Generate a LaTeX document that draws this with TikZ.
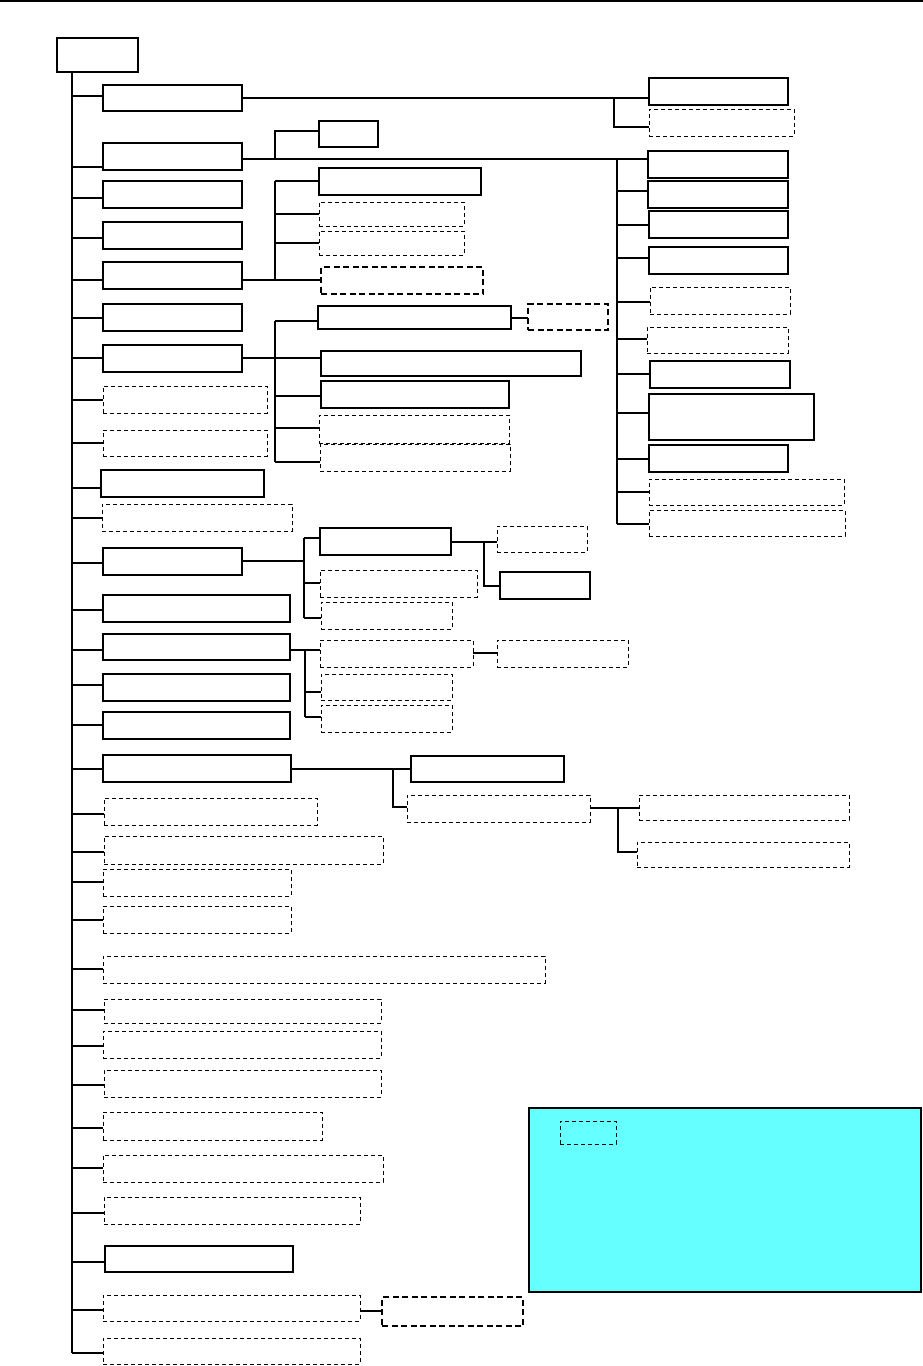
\documentclass[tikz,border=0pt]{standalone}
\usetikzlibrary{fit}
\definecolor{legendcyan}{HTML}{66FFFF}
\tikzset{
  solidbox/.style={draw=black,line width=1.1pt,inner sep=0pt,outer sep=0pt,fill=white},
  dashbox/.style={draw=black,line width=0.9pt,dash pattern=on 4pt off 3pt,inner sep=0pt,outer sep=0pt,fill=white},
  thickdash/.style={draw=black,line width=1.9pt,dash pattern=on 6pt off 3.5pt,inner sep=0pt,outer sep=0pt,fill=white},
  legendbox/.style={draw=black,line width=2.2pt,fill=legendcyan,inner sep=0pt,outer sep=0pt},
  conn/.style={draw=black,line width=1.2pt},
}
\newcommand\bx[6]{\node[#6,fit={(#2,#3) (#4,#5)}] (#1) {};}
\newcommand\stb[3]{\coordinate (stp) at (#1,#2); \draw[conn] (stp) -- (stp -| #3.west);}
\begin{document}
\begin{tikzpicture}[x=1pt,y=-1pt]
\useasboundingbox (0,0) rectangle (923,1366);
\draw[line width=1.5pt] (0,1) -- (923,1);

% root and trunk
\bx{root}{57}{38}{138}{72}{solidbox}
\coordinate (Ttop) at (72,72);
\coordinate (Tbot) at (72,1353);
\draw[conn,line width=1.3pt] (Ttop) -- (Tbot);

% left column
\bx{b1}{103}{85}{242}{111}{solidbox}
\bx{b2}{103}{143}{242}{170}{solidbox}
\bx{b3}{103}{181}{242}{208}{solidbox}
\bx{b4}{103}{222}{242}{249}{solidbox}
\bx{b5}{103}{262}{242}{289}{solidbox}
\bx{b6}{103}{304}{242}{331}{solidbox}
\bx{b7}{103}{345}{242}{372}{solidbox}
\bx{b8}{103}{386}{267}{413}{dashbox}
\bx{b9}{103}{430}{267}{456}{dashbox}
\bx{b10}{101}{470}{264}{497}{solidbox}
\bx{b11}{102}{504}{292}{531}{dashbox}
\bx{b12}{103}{548}{242}{575}{solidbox}
\bx{b13}{103}{595}{290}{622}{solidbox}
\bx{b14}{103}{634}{290}{660}{solidbox}
\bx{b15}{103}{674}{290}{701}{solidbox}
\bx{b16}{103}{712}{290}{739}{solidbox}
\bx{b17}{103}{755}{291}{782}{solidbox}
\bx{b18}{104}{798}{317}{825}{dashbox}
\bx{b19}{104}{836}{383}{864}{dashbox}
\bx{b20}{103}{869}{291}{896}{dashbox}
\bx{b21}{103}{906}{291}{933}{dashbox}
\bx{b22}{103}{956}{545}{983}{dashbox}
\bx{b23}{104}{999}{381}{1023}{dashbox}
\bx{b24}{103}{1031}{381}{1058}{dashbox}
\bx{b25}{104}{1070}{381}{1097}{dashbox}
\bx{b26}{103}{1112}{322}{1140}{dashbox}
\bx{b27}{103}{1155}{383}{1182}{dashbox}
\bx{b28}{104}{1197}{360}{1224}{dashbox}
\bx{b29}{105}{1246}{293}{1272}{solidbox}
\bx{b30}{103}{1295}{360}{1321}{dashbox}
\bx{b31}{103}{1338}{360}{1364}{dashbox}

\stb{72}{96}{b1}
\stb{72}{167}{b2}
\stb{72}{198}{b3}
\stb{72}{238}{b4}
\stb{72}{280}{b5}
\stb{72}{318}{b6}
\stb{72}{358}{b7}
\stb{72}{400}{b8}
\stb{72}{443}{b9}
\stb{72}{488}{b10}
\stb{72}{518}{b11}
\stb{72}{563}{b12}
\stb{72}{610}{b13}
\stb{72}{650}{b14}
\stb{72}{685}{b15}
\stb{72}{725}{b16}
\stb{72}{769}{b17}
\stb{72}{814}{b18}
\stb{72}{852}{b19}
\stb{72}{882}{b20}
\stb{72}{920}{b21}
\stb{72}{969}{b22}
\stb{72}{1010}{b23}
\stb{72}{1046}{b24}
\stb{72}{1085}{b25}
\stb{72}{1128}{b26}
\stb{72}{1168}{b27}
\stb{72}{1213}{b28}
\stb{72}{1262}{b29}
\stb{72}{1310}{b30}
\stb{72}{1353}{b31}

% branch of b1
\bx{r1}{649}{78}{788}{105}{solidbox}
\bx{r2}{649}{109}{794}{136}{dashbox}
\coordinate (j1) at (614,98);
\coordinate (j1b) at (614,127);
\draw[conn] (b1.east |- j1) -- (j1) -- (j1 -| r1.west);
\draw[conn] (j1) -- (j1b) -- (j1b -| r2.west);

% branch of b2 (right bus)
\bx{s1}{319}{121}{378}{147}{solidbox}
\bx{r3}{648}{151}{788}{178}{solidbox}
\bx{r4}{648}{181}{788}{208}{solidbox}
\bx{r5}{649}{211}{788}{238}{solidbox}
\bx{r6}{649}{247}{788}{274}{solidbox}
\bx{r7}{650}{287}{790}{314}{dashbox}
\bx{r8}{647}{327}{788}{353}{dashbox}
\bx{r9}{650}{361}{790}{388}{solidbox}
\bx{r10}{649}{394}{814}{440}{solidbox}
\bx{r11}{649}{445}{788}{472}{solidbox}
\bx{r12}{649}{479}{844}{505}{dashbox}
\bx{r13}{649}{510}{845}{536}{dashbox}
\coordinate (j2a) at (275,159);
\coordinate (j2s) at (275,131);
\coordinate (j2bus) at (617,159);
\coordinate (j2end) at (617,524);
\draw[conn] (b2.east |- j2a) -- (j2bus) -- (j2bus -| r3.west);
\draw[conn] (j2a) -- (j2s) -- (j2s -| s1.west);
\draw[conn] (j2bus) -- (j2end);
\stb{617}{191}{r4}
\stb{617}{225}{r5}
\stb{617}{258}{r6}
\stb{617}{302}{r7}
\stb{617}{339}{r8}
\stb{617}{374}{r9}
\stb{617}{413}{r10}
\stb{617}{459}{r11}
\stb{617}{492}{r12}
\stb{617}{524}{r13}

% branch of b5
\bx{m1}{319}{168}{481}{195}{solidbox}
\bx{m2}{319}{202}{464}{226}{dashbox}
\bx{m3}{319}{231}{464}{255}{dashbox}
\bx{m4}{321}{267}{483}{294}{thickdash}
\coordinate (k5) at (275,280);
\coordinate (k5top) at (275,181);
\draw[conn] (b5.east |- k5) -- (k5 -| m4.west);
\draw[conn] (k5top) -- (k5);
\stb{275}{181}{m1}
\stb{275}{214}{m2}
\stb{275}{243}{m3}

% branch of b7
\bx{n1}{318}{306}{511}{329}{solidbox}
\bx{n1a}{528}{304}{608}{330}{thickdash}
\bx{n2}{321}{351}{581}{376}{solidbox}
\bx{n3}{321}{381}{509}{408}{solidbox}
\bx{n4}{319}{415}{509}{443}{dashbox}
\bx{n5}{320}{444}{510}{471}{dashbox}
\coordinate (k7) at (275,358);
\coordinate (k7top) at (275,321);
\coordinate (k7bot) at (275,462);
\draw[conn] (b7.east |- k7) -- (k7 -| n2.west);
\draw[conn] (k7top) -- (k7bot);
\stb{275}{321}{n1}
\stb{275}{396}{n3}
\stb{275}{428}{n4}
\stb{275}{462}{n5}
\coordinate (k7a) at (511,318);
\draw[conn] (k7a) -- (k7a -| n1a.west);

% branch of b12
\bx{p1}{320}{528}{451}{555}{solidbox}
\bx{p1a}{497}{526}{587}{552}{dashbox}
\bx{p1b}{500}{572}{590}{599}{solidbox}
\bx{p2}{320}{570}{477}{597}{dashbox}
\bx{p3}{321}{602}{452}{629}{dashbox}
\coordinate (k12) at (304,561);
\coordinate (k12top) at (304,538);
\coordinate (k12bot) at (304,618);
\draw[conn] (b12.east |- k12) -- (k12);
\draw[conn] (k12top) -- (k12bot);
\stb{304}{538}{p1}
\stb{304}{583}{p2}
\stb{304}{618}{p3}
\coordinate (k12a) at (484,542);
\coordinate (k12b) at (484,586);
\draw[conn] (p1.east |- k12a) -- (k12a -| p1a.west);
\draw[conn] (k12a) -- (k12b) -- (k12b -| p1b.west);

% branch of b14
\bx{q1}{320}{640}{473}{667}{dashbox}
\bx{q1a}{497}{640}{628}{667}{dashbox}
\bx{q2}{321}{674}{452}{700}{dashbox}
\bx{q3}{321}{705}{452}{732}{dashbox}
\coordinate (k14) at (305,650);
\coordinate (k14bot) at (305,717);
\draw[conn] (b14.east |- k14) -- (k14 -| q1.west);
\draw[conn] (k14) -- (k14bot);
\stb{305}{692}{q2}
\stb{305}{717}{q3}
\coordinate (k14a) at (473,653);
\draw[conn] (k14a) -- (k14a -| q1a.west);

% branch of b17
\bx{a17}{411}{756}{564}{782}{solidbox}
\bx{bb17}{407}{795}{590}{822}{dashbox}
\bx{c1}{639}{795}{849}{820}{dashbox}
\bx{c2}{637}{842}{849}{867}{dashbox}
\coordinate (k17) at (393,769);
\coordinate (k17bot) at (393,807);
\draw[conn] (b17.east |- k17) -- (k17 -| a17.west);
\draw[conn] (k17) -- (k17bot) -- (k17bot -| bb17.west);
\coordinate (k17b) at (618,808);
\coordinate (k17c) at (618,852);
\draw[conn] (bb17.east |- k17b) -- (k17b -| c1.west);
\draw[conn] (k17b) -- (k17c) -- (k17c -| c2.west);

% branch of b30
\bx{d30}{382}{1297}{523}{1326}{thickdash}
\coordinate (k30) at (360,1311);
\draw[conn] (k30) -- (k30 -| d30.west);

% legend
\bx{legend}{529}{1108}{921}{1292}{legendbox}
\node[dashbox,fill=none,fit={(560,1121) (616,1144)}] (legendkey) {};
\end{tikzpicture}
\end{document}
